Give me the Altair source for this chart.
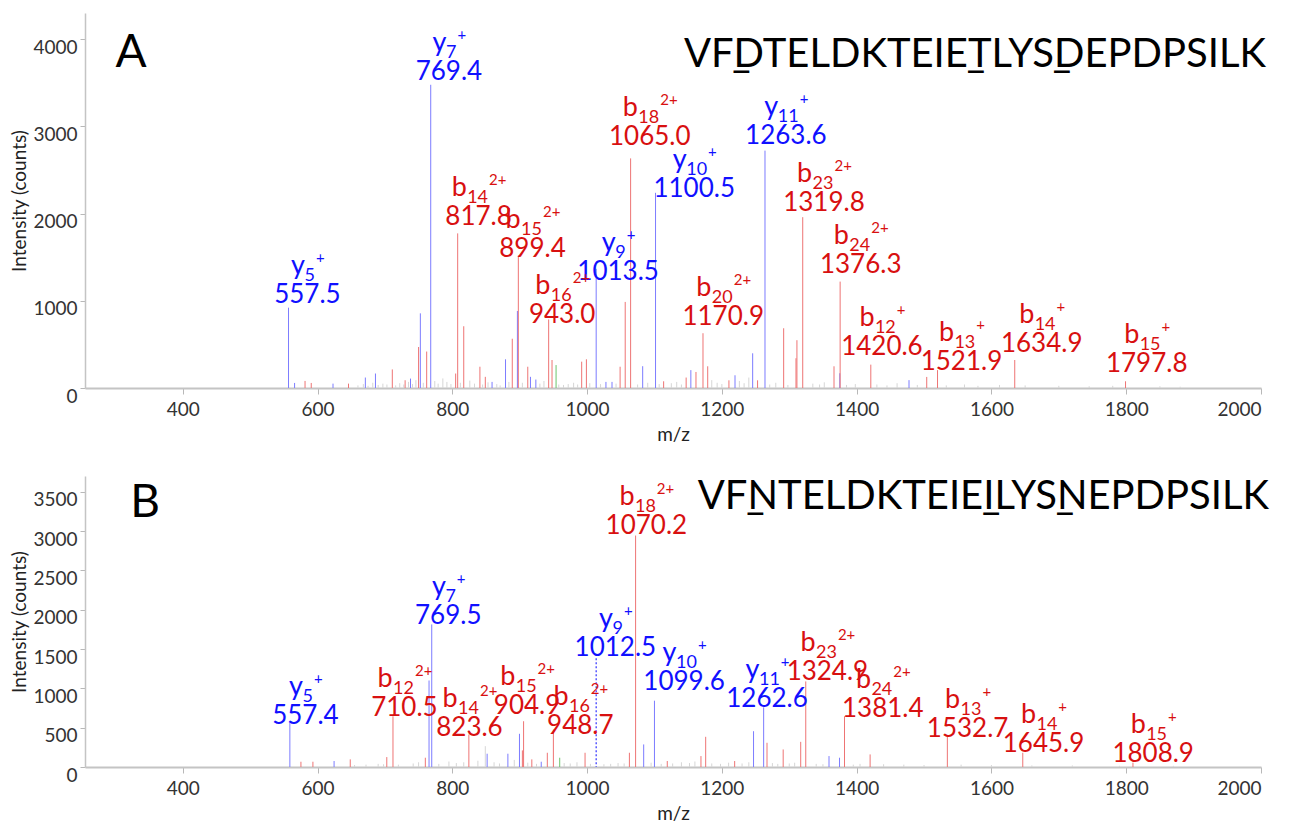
import altair as alt
import pandas as pd

# ---------------- data: panel A ----------------
A_Y_MZ  = [557, 566, 623, 671, 686, 738, 752.6, 768, 859, 879, 896.6, 916, 924, 1013.5, 1028, 1037,
           1082.5, 1101.6, 1154, 1219.5, 1245.7, 1264, 1375, 1477.7]
A_Y_INT = [921, 58, 50, 120, 166, 108, 856, 3477, 70, 329, 883, 128, 97, 1367, 70, 70,
           250, 2238, 205, 146, 398, 2722, 169, 90]
A_B_MZ  = [581.5, 590.7, 646, 711, 730, 750, 762, 805, 808, 817, 841, 849, 889, 898, 912, 943, 948,
           992, 999, 1049, 1056.6, 1064.6, 1113.6, 1147, 1161.6, 1172, 1179, 1210.5, 1253, 1291.7,
           1310, 1311.4, 1320, 1366.4, 1375.5, 1421, 1504, 1520, 1634.6, 1799]
A_B_INT = [81, 58, 50, 213, 89, 470, 418, 166, 1773, 708, 244, 128, 565, 1521, 244, 786, 321,
           302, 329, 244, 987, 2633, 77, 120, 184, 628, 249, 88, 88, 685,
           341, 548, 1959, 249, 1220, 268, 127, 205, 321, 77]
A_G_MZ  = [954]
A_G_INT = [263]
A_N_MZ  = [660, 668, 675, 682, 690, 697, 703, 716, 722, 728, 735, 741, 746, 757, 774, 779, 786, 792,
           798, 812, 826, 833, 845, 853, 866, 871, 884, 904, 930, 936, 958, 965, 972, 980, 986, 1004,
           1020, 1043, 1075, 1090, 1107, 1125, 1133, 1140, 1185, 1193, 1200, 1226, 1233, 1240, 1271,
           1280, 1298, 1335, 1345, 1352, 1385, 1398, 1430, 1445, 1460, 1490, 1533, 1560, 1580, 1612,
           1650, 1700, 1745, 1780, 1850, 1880]
A_N_INT = [30, 45, 25, 60, 35, 50, 40, 30, 55, 40, 70, 45, 90, 60, 80, 50, 110, 70,
           45, 60, 85, 50, 40, 65, 45, 30, 70, 60, 50, 80, 40, 35, 45, 60, 40, 55,
           45, 50, 40, 60, 45, 55, 70, 40, 90, 60, 45, 80, 55, 120, 40,
           60, 35, 50, 40, 65, 35, 45, 40, 30, 55, 35, 30, 40, 25, 35,
           30, 25, 20, 25, 20, 15]

A_LAB_ION = ["y", "y", "b", "b", "b", "y", "b", "y", "b", "y", "b", "b", "b", "b", "b", "b"]
A_LAB_SUB = ["5", "7", "14", "15", "16", "9", "18", "10", "20", "11", "23", "24", "12", "13", "14", "15"]
A_LAB_CHG = ["+", "+", "2+", "2+", "2+", "+", "2+", "+", "2+", "+", "2+", "2+", "+", "+", "+", "+"]
A_LAB_TXT = ["557.5", "769.4", "817.8", "899.4", "943.0", "1013.5", "1065.0", "1100.5", "1170.9",
             "1263.6", "1319.8", "1376.3", "1420.6", "1521.9", "1634.9", "1797.8"]
A_LAB_X   = [585, 795, 839, 919, 963, 1046, 1093, 1159, 1202, 1295, 1351.5, 1406, 1437.5, 1555.5, 1674.6, 1830.4]
A_LAB_Y   = [972, 3533, 1868, 1501, 744, 1237, 2786, 2189, 720, 2798, 2029, 1317, 375, 204, 410, 180]

# ---------------- data: panel B ----------------
B_Y_MZ  = [559, 624.6, 765.5, 769.5, 851.7, 882.5, 899.7, 932, 1084, 1100, 1247, 1262, 1359, 1374.6]
B_Y_INT = [561, 76, 1100, 1813, 169, 169, 422, 67, 287, 843, 455, 759, 139, 118]
B_Y_DOT_MZ  = [1013.5]
B_Y_DOT_INT = [1383]
B_B_MZ  = [575.4, 593.2, 648.6, 702.8, 712, 760, 824.6, 904, 905.8, 918, 941, 950, 997, 1062.8, 1072,
           1119, 1169, 1176, 1219, 1267, 1291, 1317, 1324.5, 1382, 1420, 1534.6, 1646.5, 1810]
B_B_INT = [67, 67, 97, 126, 645, 118, 413, 211, 582, 97, 181, 476, 181, 181, 2943,
           76, 139, 384, 76, 308, 223, 320, 1088, 645, 160, 405, 181, 55]
B_G_MZ  = [959.4]
B_G_INT = [118]
B_N_MZ  = [655, 672, 690, 698, 720, 742, 750, 780, 795, 806, 817, 838, 849, 862, 870, 892, 912, 925,
           966, 975, 985, 1005, 1025, 1035, 1046, 1055, 1095, 1110, 1127, 1140, 1152, 1160, 1185, 1198,
           1210, 1230, 1240, 1275, 1283, 1300, 1308, 1340, 1350, 1395, 1405, 1440, 1470, 1500, 1555,
           1600, 1660, 1720, 1790, 1870]
B_N_INT = [25, 30, 40, 35, 30, 45, 60, 40, 70, 50, 60, 80, 265, 60, 45, 90, 55, 40,
           50, 45, 60, 40, 35, 40, 50, 45, 55, 40, 45, 60, 50, 70, 45, 40,
           55, 45, 60, 50, 40, 45, 55, 40, 35, 30, 40, 35, 30, 25, 30,
           25, 20, 20, 15, 15]

B_LAB_ION = ["y", "y", "b", "b", "b", "b", "y", "b", "y", "y", "b", "b", "b", "b", "b"]
B_LAB_SUB = ["5", "7", "12", "14", "15", "16", "9", "18", "10", "11", "23", "24", "13", "14", "15"]
B_LAB_CHG = ["+", "+", "2+", "2+", "2+", "2+", "+", "2+", "+", "+", "2+", "2+", "+", "+", "+"]
B_LAB_TXT = ["557.4", "769.5", "710.5", "823.6", "904.9", "948.7", "1012.5", "1070.2", "1099.6",
             "1262.6", "1324.9", "1381.4", "1532.7", "1645.9", "1808.9"]
B_LAB_X   = [582, 794, 729, 825.5, 911, 990, 1042, 1088, 1144, 1267, 1356.6, 1438.8, 1564.7, 1677.3, 1840]
B_LAB_Y   = [546, 1817, 648, 394, 673, 419, 1410, 2960, 978, 762, 1105, 635, 381, 191, 64]

# combining low line placed before the letter it should underline (renders forward)
SEQ_A = "VF\u0332DTELDKTEIE\u0332TLYS\u0332DEPDPSILK"
SEQ_B = "VF\u0332NTELDKTEIE\u0332ILYS\u0332NEPDPSILK"

X_TICKS = [400, 600, 800, 1000, 1200, 1400, 1600, 1800, 2000]
A_Y_TICKS = [0, 1000, 2000, 3000, 4000]
B_Y_TICKS = [0, 500, 1000, 1500, 2000, 2500, 3000, 3500]

# ---------------- styling ----------------
FONT = "Lato"
W = 1176
XMIN, XMAX = 255, 2000
PPM = W / (XMAX - XMIN)
FS_NUM, FS_BASE, FS_SUB, FS_SUP = 26, 27, 18, 15
BLUE_T, RED_T = "#1010ff", "#d81010"
ADV = {"b": 0.574, "y": 0.50, "+": 0.58, "2": 0.58}


def peaks_df(parts):
    rows = []
    for kind, mzs, ints in parts:
        for m, i in zip(mzs, ints):
            rows.append({"mz": m, "inten": i, "kind": kind})
    return pd.DataFrame(rows)


def labels_df(ions, subs, chgs, txts, xs, ys):
    rows = []
    for ion, sub, chg, txt, lx, ly in zip(ions, subs, chgs, txts, xs, ys):
        wb = ADV[ion] * FS_BASE
        ws = 0.58 * FS_SUB * len(sub)
        wp = sum(ADV.get(c, 0.58) for c in chg) * FS_SUP
        start = -(wb + ws + wp) / 2
        rows.append({
            "ion": ion, "sub": sub, "chg": chg, "txt": txt, "lx": lx, "ly": ly,
            "xb": lx + start / PPM, "xs": lx + (start + wb) / PPM, "xp": lx + (start + wb + ws + 1) / PPM,
        })
    return pd.DataFrame(rows)


def label_layers(labs, xs, ys, color):
    base = alt.Chart(labs)
    return [
        base.mark_text(font=FONT, fontSize=FS_NUM, align="center", baseline="alphabetic", color=color).encode(
            x=alt.X("lx:Q", scale=xs), y=alt.Y("ly:Q", scale=ys), text="txt:N"),
        base.mark_text(font=FONT, fontSize=FS_BASE, align="left", baseline="alphabetic", dy=-29, color=color).encode(
            x=alt.X("xb:Q", scale=xs), y=alt.Y("ly:Q", scale=ys), text="ion:N"),
        base.mark_text(font=FONT, fontSize=FS_SUB, align="left", baseline="alphabetic", dy=-22, color=color).encode(
            x=alt.X("xs:Q", scale=xs), y=alt.Y("ly:Q", scale=ys), text="sub:N"),
        base.mark_text(font=FONT, fontSize=FS_SUP, align="left", baseline="alphabetic", dy=-40, color=color).encode(
            x=alt.X("xp:Q", scale=xs), y=alt.Y("ly:Q", scale=ys), text="chg:N"),
    ]


def panel(peaks, labs, ymax, height, yticks, letter, letter_xy, seq, seq_xy, dotted=None):
    xs = alt.Scale(domain=[XMIN, XMAX], nice=False, zero=False)
    ys = alt.Scale(domain=[0, ymax], nice=False)
    xaxis = alt.Axis(values=X_TICKS, title="m/z", grid=False, format="d")
    yaxis = alt.Axis(values=yticks, title="Intensity (counts)", grid=False, format="d")
    kinds = ["noise", "green", "y", "b"]
    rules = alt.Chart(peaks).mark_rule(strokeWidth=1).encode(
        x=alt.X("mz:Q", scale=xs, axis=xaxis),
        y=alt.Y("inten:Q", scale=ys, axis=yaxis),
        y2=alt.datum(0),
        color=alt.Color("kind:N", scale=alt.Scale(domain=kinds,
                        range=["#d6d6d6", "#6cc46c", "#7c7cff", "#ee7474"]), legend=None),
    )
    layers = [rules]
    if dotted is not None:
        layers.append(alt.Chart(dotted).mark_rule(strokeWidth=1.2, strokeDash=[2, 2], color="#3030ff").encode(
            x=alt.X("mz:Q", scale=xs), y=alt.Y("inten:Q", scale=ys), y2=alt.datum(0)))
    layers += label_layers(labs[labs["ion"] == "y"], xs, ys, BLUE_T)
    layers += label_layers(labs[labs["ion"] == "b"], xs, ys, RED_T)
    ann = alt.Chart(pd.DataFrame({"t": [letter], "s": [seq]}))
    layers += [
        ann.mark_text(font=FONT, fontSize=46, align="center", baseline="alphabetic", color="#000").encode(
            text="t:N", x=alt.value(letter_xy[0]), y=alt.value(letter_xy[1])),
        ann.mark_text(font=FONT, fontSize=40, align="right", baseline="alphabetic", color="#000").encode(
            text="s:N", x=alt.value(seq_xy[0]), y=alt.value(seq_xy[1])),
    ]
    return alt.layer(*layers).properties(width=W, height=height)


pa = peaks_df([("noise", A_N_MZ, A_N_INT), ("green", A_G_MZ, A_G_INT),
               ("y", A_Y_MZ, A_Y_INT), ("b", A_B_MZ, A_B_INT)])
pb = peaks_df([("noise", B_N_MZ, B_N_INT), ("green", B_G_MZ, B_G_INT),
               ("y", B_Y_MZ, B_Y_INT), ("b", B_B_MZ, B_B_INT)])
la = labels_df(A_LAB_ION, A_LAB_SUB, A_LAB_CHG, A_LAB_TXT, A_LAB_X, A_LAB_Y)
lb = labels_df(B_LAB_ION, B_LAB_SUB, B_LAB_CHG, B_LAB_TXT, B_LAB_X, B_LAB_Y)
dot = pd.DataFrame({"mz": B_Y_DOT_MZ, "inten": B_Y_DOT_INT})

chart_a = panel(pa, la, 4300, 375, A_Y_TICKS, "A", (46, 54), SEQ_A, (W + 5, 54))
chart_b = panel(pb, lb, 3700, 291, B_Y_TICKS, "B", (60, 41), SEQ_B, (W + 8, 33), dotted=dot)

chart = alt.vconcat(chart_a, chart_b, spacing=32).properties(
    padding={"left": 2, "top": 5, "right": 5, "bottom": 0}
).configure_view(stroke=None).configure_axis(
    labelFont=FONT, titleFont=FONT, labelFontSize=19, titleFontSize=19,
    labelColor="#333333", titleColor="#222222", titleFontWeight="normal",
    domainColor="#c4c4c4", tickColor="#b8b8b8", tickSize=6, grid=False,
).configure_axisX(
    domainWidth=2, labelPadding=6, titlePadding=6,
).configure_axisY(
    domainWidth=1.5, tickSize=5, labelPadding=3, labelOffset=8, titlePadding=3,
)

chart.save("out.html", embed_options={"renderer": "svg", "actions": False})
